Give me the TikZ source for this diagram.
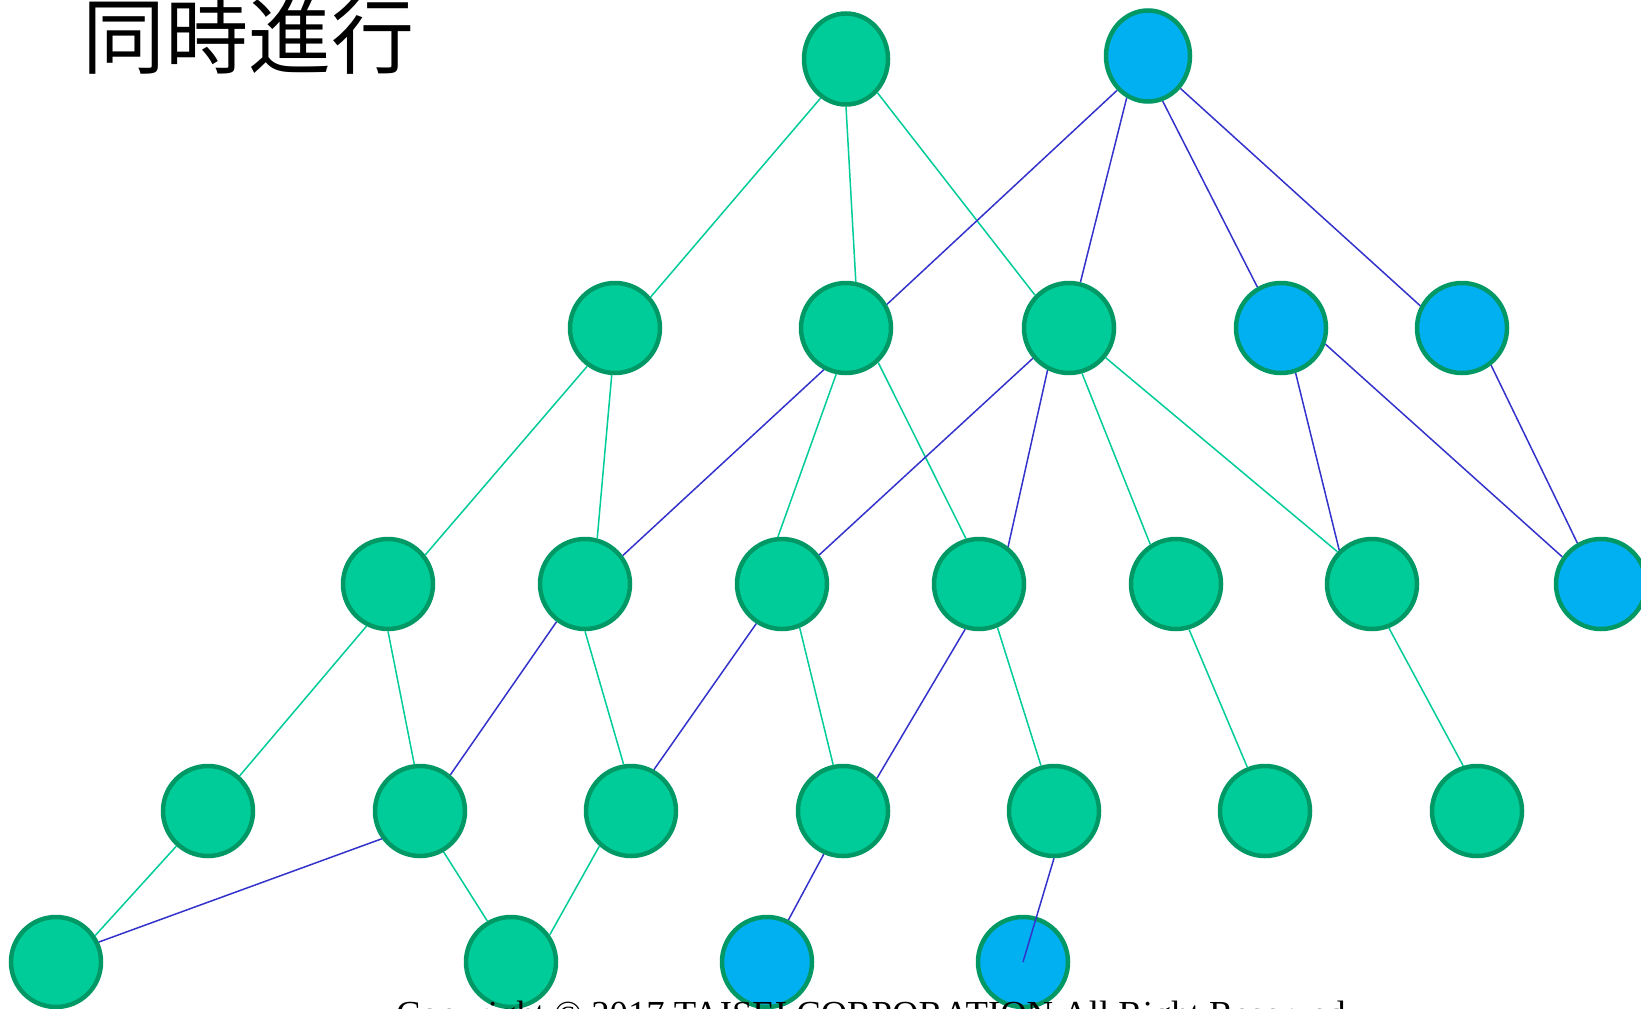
\documentclass[tikz,border=0pt]{standalone}
\usepackage{fontspec}
\newfontfamily\cjk{Noto Sans CJK JP}
\newfontfamily\copyfont{Liberation Serif}
\usetikzlibrary{shapes.geometric}
\usepackage{xcolor}
\definecolor{nodegreen}{HTML}{00CC99}
\definecolor{nodeblue}{HTML}{00B0F0}
\definecolor{rimgreen}{HTML}{009966}
\definecolor{linegreen}{HTML}{00CC99}
\definecolor{lineblue}{HTML}{3333CC}

\begin{document}
\begin{tikzpicture}[%
    x=1pt, y=-1pt,
    every node/.style={inner sep=0pt},
    gnode/.style={%
      ellipse,
      draw=rimgreen,
      line width=4.5pt,
      fill=nodegreen,
      minimum width=90pt,
      minimum height=90pt
    },
    bnode/.style={gnode, fill=nodeblue},
    topnode/.style={minimum width=84pt, minimum height=91pt},
    gline/.style={draw=linegreen, line width=1.5pt},
    bline/.style={draw=lineblue, line width=1.5pt}
  ]
  \useasboundingbox (0,0) rectangle (1641,1009);

  \node[anchor=base west, font=\cjk\fontsize{83}{83}\selectfont] (title) at (82,67) {同時進行};

  % Row 0
  \node[gnode, topnode] (a1) at (846,59) {};
  \node[bnode, topnode] (a2) at (1148,56) {};

  % Row 1
  \node[gnode] (b1) at (615,328) {};
  \node[gnode] (b2) at (846,328) {};
  \node[gnode] (b3) at (1069,328) {};
  \node[bnode] (b4) at (1281,328) {};
  \node[bnode] (b5) at (1462,328) {};

  % Row 2
  \node[gnode] (c1) at (388,584) {};
  \node[gnode] (c2) at (585,584) {};
  \node[gnode] (c3) at (782,584) {};
  \node[gnode] (c4) at (979,584) {};
  \node[gnode] (c5) at (1176,584) {};
  \node[gnode] (c6) at (1372,584) {};
  \node[bnode] (c7) at (1601,584) {};

  % Row 3
  \node[gnode] (d1) at (208,811) {};
  \node[gnode] (d2) at (420,811) {};
  \node[gnode] (d3) at (631,811) {};
  \node[gnode] (d4) at (843,811) {};
  \node[gnode] (d5) at (1054,811) {};
  \node[gnode] (d6) at (1265,811) {};
  \node[gnode] (d7) at (1477,811) {};

  % Row 4
  \node[gnode] (e1) at (56,962) {};
  \node[gnode] (e2) at (511,962) {};
  \node[bnode] (e3) at (767,962) {};
  \node[bnode] (e4) at (1023,962) {};

  % Green links
  \draw[gline] (a1.237) -- (b1.41);
  \draw[gline] (a1.270) -- (b2.78);
  \draw[gline] (a1.313) -- (b3.136);
  \draw[gline] (b1.234) -- (c1.38);
  \draw[gline] (b1.266) -- (c2.75);
  \draw[gline] (b2.258) -- (c3.95);
  \draw[gline] (b2.313) -- (c4.106);
  \draw[gline] (b3.286) -- (c5.123);
  \draw[gline] (b3.321) -- (c6.137);
  \draw[gline] (c1.243) -- (d1.48);
  \draw[gline] (c1.270) -- (d2.97);
  \draw[gline] (c2.270) -- (d3.99);
  \draw[gline] (c3.292) -- (d4.102);
  \draw[gline] (c4.293) -- (d5.106);
  \draw[gline] (c5.286) -- (d6.112);
  \draw[gline] (c6.291) -- (d7.107);
  \draw[gline] (d1.228) -- (e1.34);
  \draw[gline] (d2.300) -- (e2.120);
  \draw[gline] (d3.228) -- (e2.35);

  % Blue links
  \draw[bline] (a2.228) -- (b2.30);
  \draw[bline] (a2.243) -- (b3.76);
  \draw[bline] (a2.288) -- (b4.120);
  \draw[bline] (a2.315) -- (b5.152);
  \draw[bline] (b2.242) -- (c2.37);
  \draw[bline] (b3.220) -- (c3.38);
  \draw[bline] (b3.243) -- (c4.52);
  \draw[bline] (b4.288) -- (c6.134);
  \draw[bline] (b4.340) -- (c7.145);
  \draw[bline] (b5.308) -- (c7.120);
  \draw[bline] (c2.233) -- (d2.50);
  \draw[bline] (c3.237) -- (d3.61);
  \draw[bline] (c4.253) -- (d4.44);
  \draw[bline] (d2.216) -- (e1.25);
  \draw[bline] (d4.246) -- (e3.63);
  \draw[bline] (d5.270) -- (e4.center);

  \node[anchor=base west, font=\copyfont\fontsize{36.7}{40}\selectfont] (copy) at (396,1026)
    {Copyright © 2017 TAISEI CORPORATION All Right Reserved.};

\end{tikzpicture}
\end{document}
